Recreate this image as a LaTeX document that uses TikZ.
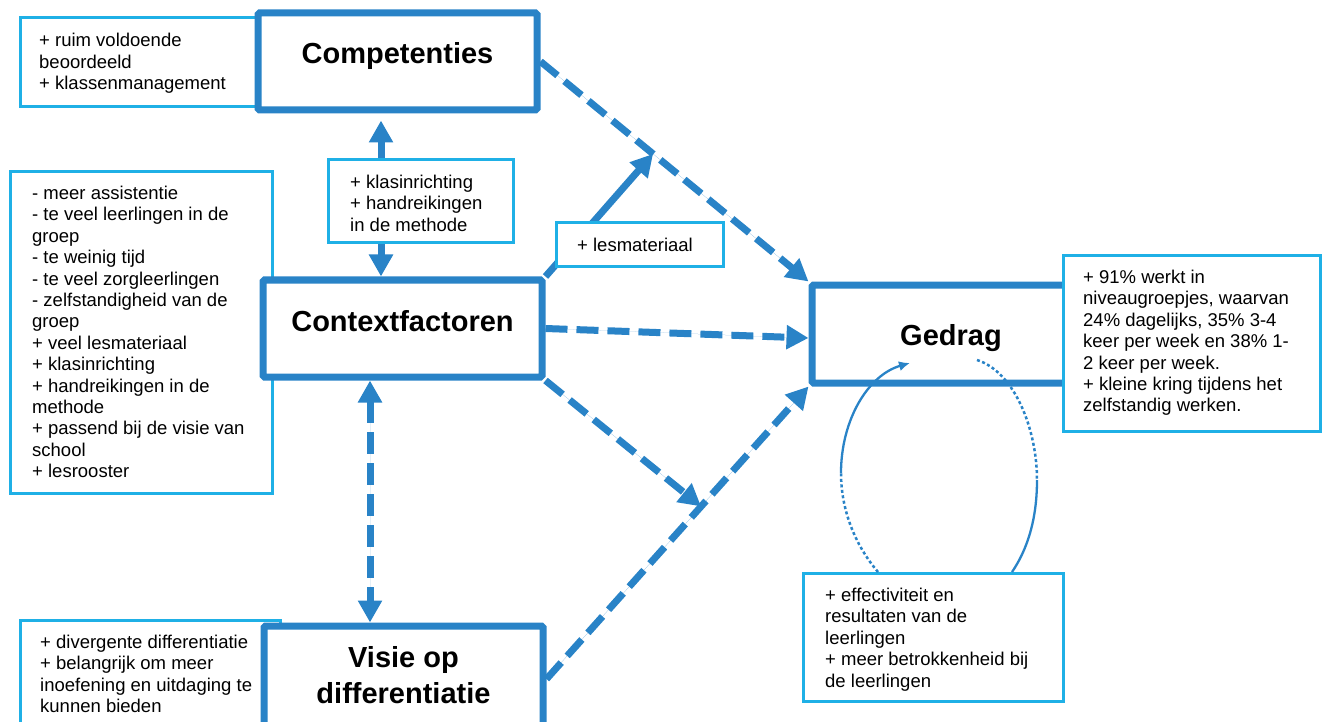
\documentclass[tikz,border=0pt]{standalone}
\usepackage{fontspec}
\setmainfont{Liberation Sans}
\usetikzlibrary{arrows.meta,calc}

\definecolor{boxblue}{RGB}{41,131,199}
\definecolor{noteblue}{RGB}{31,176,230}

% multi-line note text, first baseline at the node's base anchor
\newcommand\notelines[1]{\parbox[t]{300pt}{\raggedright\parindent=0pt\fontsize{18.5}{21.4}\selectfont #1}}

\tikzset{
  mainbox/.style={draw=boxblue, line width=7pt, fill=white, rounded corners=1.5pt, inner sep=0pt},
  notebox/.style={draw=noteblue, line width=3pt, fill=white, inner sep=0pt},
  notetext/.style={anchor=base west, inner sep=0pt},
  titletext/.style={anchor=base, inner sep=0pt, font=\fontsize{29}{36}\selectfont\bfseries},
  tiphead/.style={-{Triangle[length=22pt,width=23pt]}},
  solidlink/.style={draw=boxblue, line width=7pt, tiphead, fill=boxblue},
  dashlink/.style={draw=boxblue, line width=7pt, tiphead, fill=boxblue, dash pattern=on 22pt off 9pt},
  twohead/.style={{Triangle[length=22pt,width=23pt]}-{Triangle[length=22pt,width=23pt]}},
  loopline/.style={draw=boxblue, line width=2.3pt},
  loopdots/.style={draw=boxblue, line width=2.5pt, dash pattern=on 3pt off 2.5pt}
}

\begin{document}
\begin{tikzpicture}[x=1pt, y=-1pt]
\useasboundingbox (0,0) rectangle (1323,722);
\clip (0,0) rectangle (1323,722);

% side notes lying behind the main boxes
\node[notebox, minimum width=242pt, minimum height=89pt] (noteA) at (141,62) {};
\node[notetext] (noteAt) at (39,47) {\notelines{+ ruim voldoende\\beoordeeld\\+ klassenmanagement}};

\node[notebox, minimum width=262pt, minimum height=321pt] (noteB) at (141,332.5) {};
\node[notetext] (noteBt) at (32,199.5) {\notelines{- meer assistentie\\- te veel leerlingen in de\\groep\\- te weinig tijd\\- te veel zorgleerlingen\\- zelfstandigheid van de\\groep\\+ veel lesmateriaal\\+ klasinrichting\\+ handreikingen in de\\methode\\+ passend bij de visie van\\school\\+ lesrooster}};

\node[notebox, minimum width=260pt, minimum height=120pt] (noteE) at (150,680) {};
\node[notetext] (noteEt) at (40,648.5) {\notelines{+ divergente differentiatie\\+ belangrijk om meer\\inoefening en uitdaging te\\kunnen bieden}};

% main boxes
\node[mainbox, minimum width=279pt, minimum height=97pt] (comp) at (397.5,61.5) {};
\node[titletext] (compt) at (397.5,64) {Competenties};

\node[mainbox, minimum width=279pt, minimum height=97pt] (ctx) at (402.5,328.5) {};
\node[titletext] (ctxt) at (402.5,331) {Contextfactoren};

\node[mainbox, minimum width=279pt, minimum height=106pt] (vis) at (403.5,679) {};
\node[titletext] (vist) at (403.5,667) {\parbox[t]{300pt}{\centering Visie op\\differentiatie}};

\node[mainbox, minimum width=278pt, minimum height=98pt] (ged) at (951,334) {};
\node[titletext] (gedt) at (951,345) {Gedrag};

% connectors
\coordinate (ax) at ($(comp.south)+(-16.5,0)$);
\draw[draw=boxblue, line width=7pt, fill=boxblue, twohead, shorten <=7pt] (ax) -- (ax |- ctx.north);

\coordinate (bx) at ($(ctx.south)+(-32.5,0)$);
\draw[draw=boxblue, line width=7pt, fill=boxblue, twohead, dash pattern=on 22pt off 9pt] (bx) -- (bx |- vis.north);

\coordinate (m1) at ($(comp.east)!0.42!(ged.north west)$);
\draw[dashlink] (comp.east) -- (ged.north west);
\draw[solidlink] (ctx.north east) -- (m1);

\draw[dashlink] (ctx.east) -- ($(ged.west)+(0,4)$);

\coordinate (m2) at ($(vis.east)!0.59!(ged.south west)$);
\draw[dashlink] (vis.east) -- (ged.south west);
\draw[dashlink] (ctx.south east) -- (m2);

% notes lying on top
\node[notebox, minimum width=185pt, minimum height=83pt] (noteK) at (420.5,201.5) {};
\node[notetext] (noteKt) at (350,188.5) {\notelines{+ klasinrichting\\+ handreikingen\\in de methode}};

\node[notebox, minimum width=167pt, minimum height=44pt] (noteL) at (639.5,245) {};
\node[notetext] (noteLt) at (577,251.5) {\notelines{+ lesmateriaal}};

\node[notebox, minimum width=257pt, minimum height=175pt] (noteR) at (1191.5,343.5) {};
\node[notetext] (noteRt) at (1083,283.5) {\notelines{+ 91\% werkt in\\niveaugroepjes, waarvan\\24\% dagelijks, 35\% 3-4\\keer per week en 38\% 1-\\2 keer per week.\\+ kleine kring tijdens het\\zelfstandig werken.}};

\node[notebox, minimum width=260pt, minimum height=128pt] (noteF) at (933,637) {};
\node[notetext] (noteFt) at (825,601.5) {\notelines{+ effectiviteit en\\resultaten van de\\leerlingen\\+ meer betrokkenheid bij\\de leerlingen}};

% feedback loop between the effect note and Gedrag
\coordinate (la) at (878,572);
\coordinate (lb) at (841,473);
\coordinate (lc) at (910,363);
\coordinate (ld) at (977,360);
\coordinate (le) at (1037,480);
\coordinate (lf) at (1012,572);
\draw[loopdots] (la) .. controls (855,545) and (841,510) .. (lb);
\draw[loopline, -{Latex[length=11pt,width=10pt]}] (lb) .. controls (841,420) and (868,375) .. (lc);
\draw[loopdots] (ld) .. controls (1015,372) and (1037,430) .. (le);
\draw[loopline] (le) .. controls (1037,520) and (1027,550) .. (lf);
\end{tikzpicture}
\end{document}
